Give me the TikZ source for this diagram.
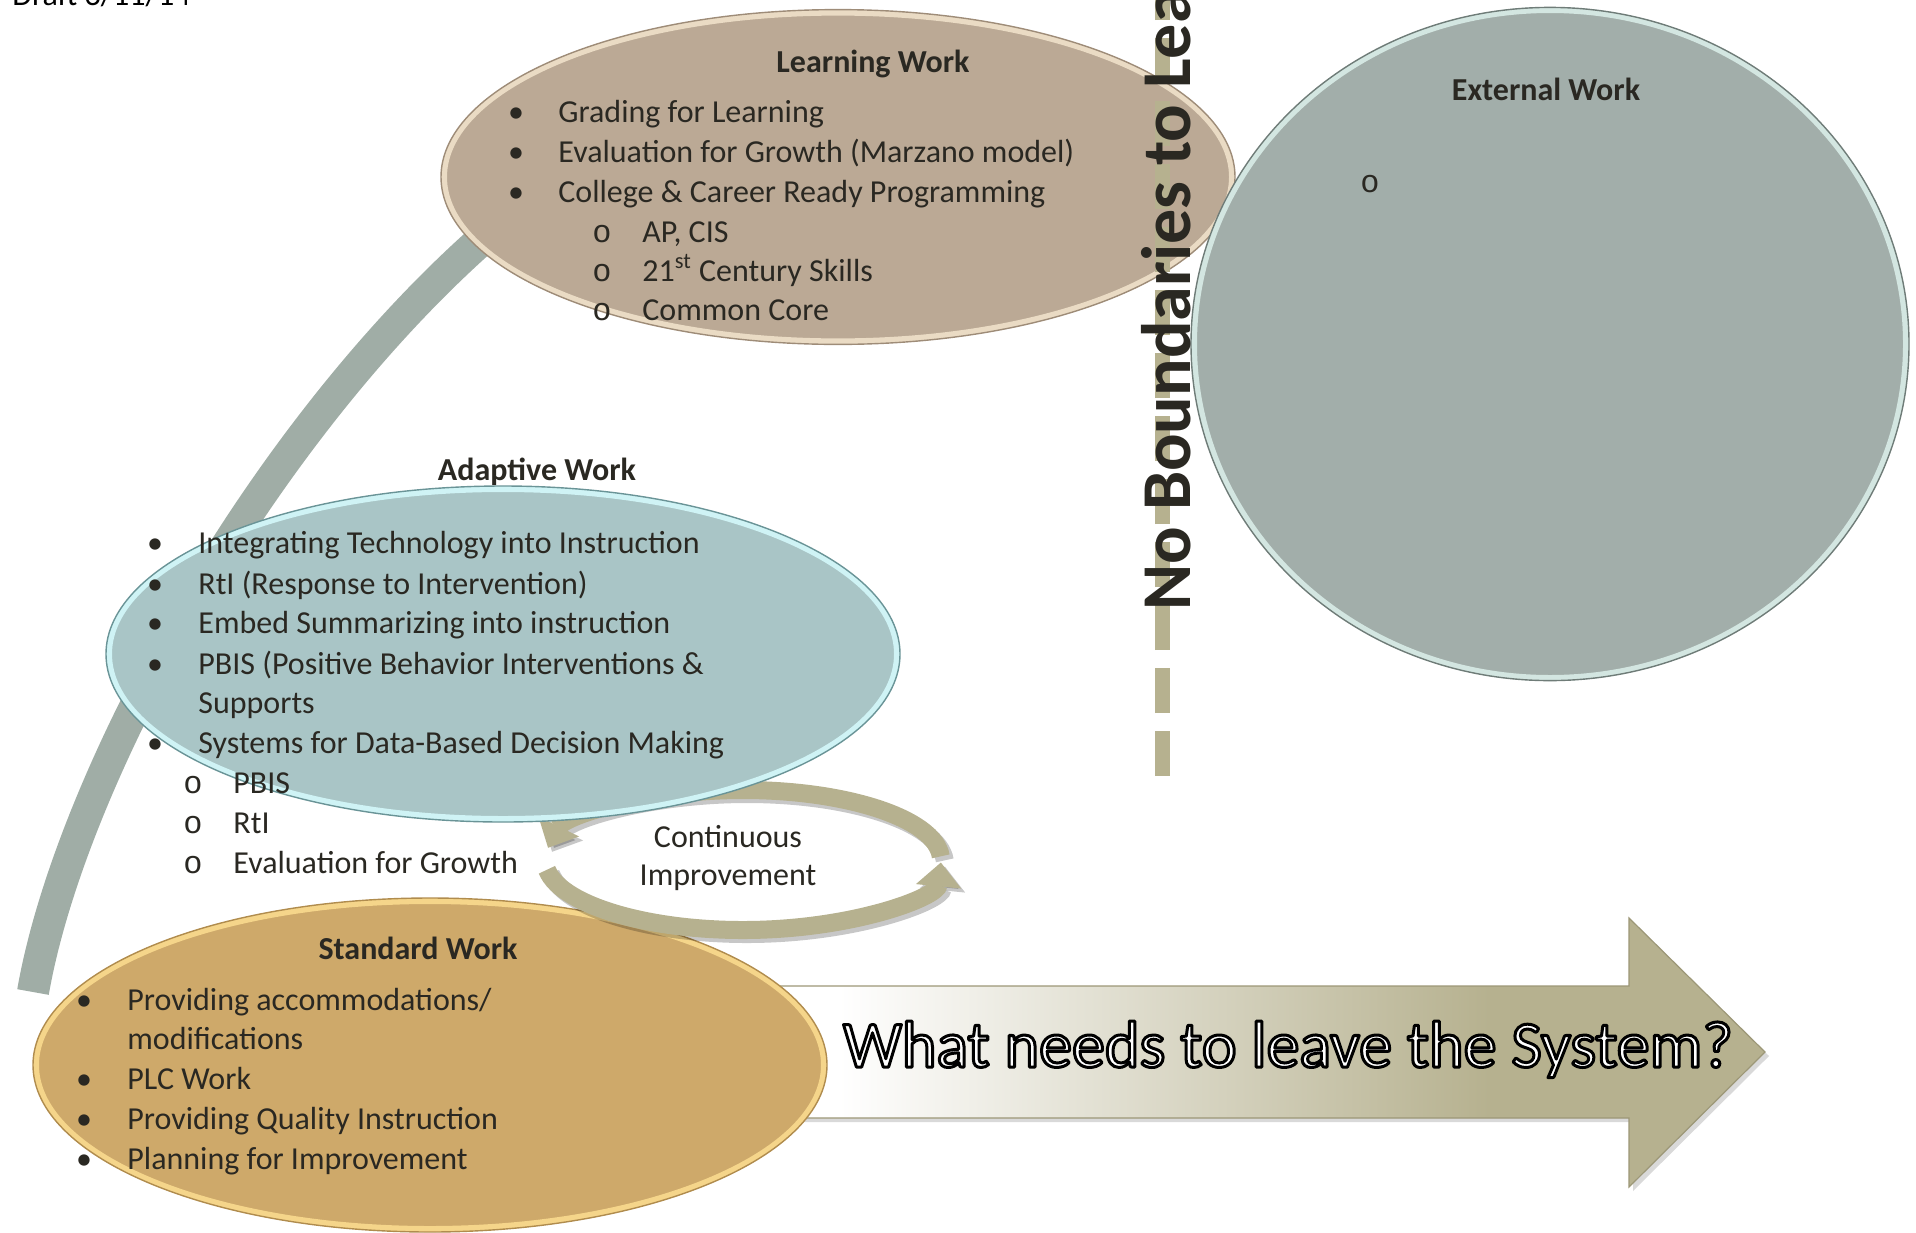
\documentclass[tikz,border=0pt]{standalone}
\usepackage{fontspec}
\setmainfont{Carlito}
\newfontfamily\monofnt{Liberation Mono}
\usetikzlibrary{shapes.geometric, arrows.meta, shadows}
\definecolor{txt}{HTML}{2A2822}
\definecolor{lwfill}{HTML}{BBA995}
\definecolor{lwring}{HTML}{EADBC4}
\definecolor{lwline}{HTML}{9E8C78}
\definecolor{ewfill}{HTML}{A2AEAA}
\definecolor{ewring}{HTML}{D3E6E1}
\definecolor{ewline}{HTML}{6F7C78}
\definecolor{awfill}{HTML}{A9C5C6}
\definecolor{awring}{HTML}{CFF3F5}
\definecolor{awline}{HTML}{6A9497}
\definecolor{swfill}{HTML}{CEA96A}
\definecolor{swring}{HTML}{F5D58A}
\definecolor{swline}{HTML}{B08C4E}
\definecolor{bandcol}{HTML}{A0ADA6}
\definecolor{khaki}{HTML}{B6B18F}
\definecolor{khakidk}{HTML}{9C9777}
\pgfdeclarehorizontalshading{bigarrowshade}{100bp}{color(0bp)=(white); color(28bp)=(white); color(61bp)=(khaki); color(100bp)=(khaki)}
\tikzset{
  bodytxt/.style={font=\fontsize{16}{19}\selectfont, text=txt, inner sep=0pt, anchor=base west},
  bultxt/.style={font=\fontsize{16}{19}\selectfont, text=txt, inner sep=0pt, anchor=base},
  subbul/.style={font=\monofnt\fontsize{16}{19}\selectfont, text=txt, inner sep=0pt, anchor=base},
  headtxt/.style={font=\bfseries\fontsize{16}{19}\selectfont, text=txt, inner sep=0pt, anchor=base},
  blob/.style={ellipse, inner sep=0pt, line width=3pt},
  cycarrow/.style={line width=9pt, khaki, -{Triangle[width=22pt,length=12pt]}},
  cycshadow/.style={line width=9pt, black, opacity=0.22, -{Triangle[width=22pt,length=12pt]}},
}
\begin{document}
\begin{tikzpicture}[x=0.5pt, y=-0.5pt]
\useasboundingbox (0,0) rectangle (1916,1232);

% grey band
\coordinate (gb1) at (33,992);
\coordinate (gb2) at (495,228);
\draw[bandcol, line width=16pt] (gb1) .. controls (70,780) and (260,430) .. (gb2);

% big arrow
\shadedraw[shading=bigarrowshade, draw=khakidk, line width=0.6pt,
  drop shadow={shadow xshift=2pt, shadow yshift=-2pt, opacity=0.3}]
  (780,986) -- (1629,986) -- (1629,918) -- (1765,1052) -- (1629,1187) -- (1629,1118) -- (780,1118) -- cycle;

% standard work ellipse
\node[blob, fill=swfill, draw=swring, minimum width=394pt, minimum height=164pt] (SW) at (430,1065) {};
\draw[swline, line width=0.7pt] (SW.center) ellipse [x radius=198.5pt, y radius=83.5pt];

% continuous improvement cycle
\coordinate (cyc) at (743,860);
\draw[cycshadow] ([xshift=2pt, yshift=-2pt, shift={(3:99pt and 35pt)}]cyc) arc[start angle=3, end angle=170, x radius=99pt, y radius=35pt];
\draw[cycshadow] ([xshift=2pt, yshift=-2pt, shift={(188:99pt and 35pt)}]cyc) arc[start angle=188, end angle=358, x radius=99pt, y radius=35pt];
\draw[cycarrow] ([shift={(3:99pt and 35pt)}]cyc) arc[start angle=3, end angle=170, x radius=99pt, y radius=35pt];
\draw[cycarrow] ([shift={(188:99pt and 35pt)}]cyc) arc[start angle=188, end angle=358, x radius=99pt, y radius=35pt];

% adaptive work ellipse
\node[blob, fill=awfill, draw=awring, minimum width=394pt, minimum height=165pt] (AW) at (503,654) {};
\draw[awline, line width=0.7pt] (AW.center) ellipse [x radius=198.5pt, y radius=84pt];

% learning work ellipse
\node[blob, fill=lwfill, draw=lwring, minimum width=394pt, minimum height=164.4pt] (LW) at (838,177) {};
\draw[lwline, line width=0.7pt] (LW.center) ellipse [x radius=198.5pt, y radius=83.7pt];

% external work circle
\node[blob, fill=ewfill, draw=ewring, minimum width=356pt, minimum height=334pt] (EW) at (1550,344) {};
\draw[ewline, line width=0.7pt] (EW.center) ellipse [x radius=179.5pt, y radius=168.3pt];

% dashed divider
\coordinate (dl1) at (1162,776);
\coordinate (dl2) at (1162,-20);
\draw[khaki, line width=7.5pt, dash pattern=on 22.5pt off 9pt] (dl1) -- (dl2);
\node[font=\bfseries\fontsize{35}{40}\selectfont, text=txt, inner sep=0pt, rotate=90, anchor=base west] (nb) at (1190,611) {No Boundaries to Lea};

% draft note
\node[bodytxt, text=black] (dr) at (12,5) {Draft 3/11/14};

% learning work text
\node[headtxt] (lwh) at (873,72) {Learning Work};
\node[bultxt] (lb1) at (516,122) {•};
\node[bodytxt] (lt1) at (558,122) {Grading for Learning};
\node[bultxt] (lb2) at (516,162) {•};
\node[bodytxt] (lt2) at (558,162) {Evaluation for Growth (Marzano model)};
\node[bultxt] (lb3) at (516,202) {•};
\node[bodytxt] (lt3) at (558,202) {College \& Career Ready Programming};
\node[subbul] (ls1) at (602,242) {o};
\node[bodytxt] (lu1) at (642,242) {AP, CIS};
\node[subbul] (ls2) at (602,281) {o};
\node[bodytxt] (lu2) at (642,281) {21\textsuperscript{st} Century Skills};
\node[subbul] (ls3) at (602,320) {o};
\node[bodytxt] (lu3) at (642,320) {Common Core};

% external work text
\node[headtxt] (ewh) at (1546,100) {External Work};
\node[subbul] (ews) at (1370,192) {o};

% adaptive work text
\node[headtxt] (awh) at (537,480) {Adaptive Work};
\node[bultxt] (ab1) at (155,553) {•};
\node[bodytxt] (at1) at (198,553) {Integrating Technology into Instruction};
\node[bultxt] (ab2) at (155,594) {•};
\node[bodytxt] (at2) at (198,594) {RtI (Response to Intervention)};
\node[bultxt] (ab3) at (155,633) {•};
\node[bodytxt] (at3) at (198,633) {Embed Summarizing into instruction};
\node[bultxt] (ab4) at (155,674) {•};
\node[bodytxt] (at4) at (198,674) {PBIS (Positive Behavior Interventions \&};
\node[bodytxt] (at4b) at (198,713) {Supports};
\node[bultxt] (ab5) at (155,753) {•};
\node[bodytxt] (at5) at (198,753) {Systems for Data-Based Decision Making};
\node[subbul] (as1) at (193,793) {o};
\node[bodytxt] (au1) at (233,793) {PBIS};
\node[subbul] (as2) at (193,833) {o};
\node[bodytxt] (au2) at (233,833) {RtI};
\node[subbul] (as3) at (193,873) {o};
\node[bodytxt] (au3) at (233,873) {Evaluation for Growth};

% continuous improvement text
\node[bultxt] (ci1) at (728,847) {Continuous};
\node[bultxt] (ci2) at (728,885) {Improvement};

% standard work text
\node[headtxt] (swh) at (418,959) {Standard Work};
\node[bultxt] (sb1) at (84,1010) {•};
\node[bodytxt] (st1) at (127,1010) {Providing accommodations/};
\node[bodytxt] (st1b) at (127,1049) {modifications};
\node[bultxt] (sb2) at (84,1089) {•};
\node[bodytxt] (st2) at (127,1089) {PLC Work};
\node[bultxt] (sb3) at (84,1129) {•};
\node[bodytxt] (st3) at (127,1129) {Providing Quality Instruction};
\node[bultxt] (sb4) at (84,1169) {•};
\node[bodytxt] (st4) at (127,1169) {Planning for Improvement};

% arrow text (white fill, black outline via PDF text render mode)
\node[font=\fontsize{33}{38}\selectfont, text=white, inner sep=0pt, anchor=base] (wq) at (1288,1067)
  {\special{pdf:code q 2 Tr 1.5 w 1 j 0 0 0 RG}What needs to leave the System?\special{pdf:code Q}};
\end{tikzpicture}
\end{document}
